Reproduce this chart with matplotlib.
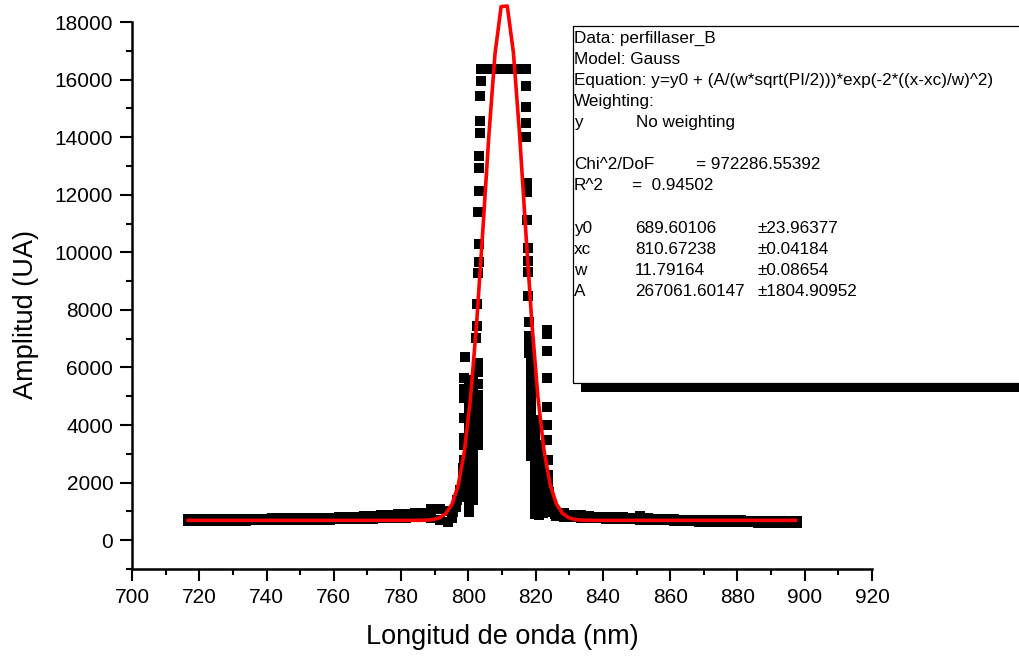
import numpy as np
import matplotlib
matplotlib.use("Agg")
import matplotlib.pyplot as plt
from matplotlib.patches import Rectangle
from matplotlib.ticker import MultipleLocator

plt.rcParams["font.family"] = ["Liberation Sans", "DejaVu Sans"]

# ---------------- measured spectrum (wavelength nm, amplitude UA) ----------------
# baseline left of the peak: upper and lower readings
left_base_x = [716.7, 719, 721.5, 724, 726.5, 729, 731.5, 734, 736.5, 739, 741.5, 744,
               746.5, 749, 751.5, 754, 756.5, 759, 761.5, 764, 766.5, 769, 771.5, 774,
               776.5, 779, 781.5, 784, 786.5, 789, 791.5, 794]
left_base_hi = [754, 748, 742, 736, 730, 735, 740, 745, 750, 754, 756, 760, 765, 770, 775,
                780, 785, 788, 790, 800, 815, 830, 845, 860, 875, 895, 915, 935, 955, 1080,
                1080, 1010]
left_base_lo = [660, 662, 664, 666, 668, 671, 675, 680, 685, 690, 693, 695, 698, 702, 706,
                710, 714, 718, 722, 728, 736, 745, 752, 760, 768, 776, 783, 789, 790, 760,
                700, 640]

# baseline right of the peak: upper and lower readings
right_base_x = [826.1, 828.5, 831, 833.5, 836, 838.5, 841, 843.5, 846, 848.5, 851, 853.5,
                856, 858.5, 861, 863.5, 866, 868.5, 871, 873.5, 876, 878.5, 881, 883.5,
                886, 888.5, 891, 893.5, 896, 897.6]
right_base_hi = [960, 930, 890, 860, 835, 815, 805, 797, 790, 783, 830, 765, 750, 735, 725,
                 715, 705, 697, 695, 695, 695, 693, 685, 678, 670, 662, 660, 660, 660, 660]
right_base_lo = [830, 815, 800, 785, 770, 758, 748, 738, 728, 720, 712, 705, 698, 690, 680,
                 668, 655, 640, 633, 630, 628, 625, 620, 617, 614, 610, 607, 605, 603, 603]

# saturated detector plateau
plateau_x = [803.9, 805.0, 806.1, 807.2, 808.3, 809.4, 810.5, 811.6, 812.7, 813.8, 814.9,
             816.0, 817.1]
plateau_level = 16383

# rising flank: isolated readings
left_flank_x = [803.7, 803.6, 803.5, 803.5, 803.3, 803.3, 803.2, 803.0, 803.1, 803.1, 803.0,
                802.7, 802.6, 802.4,
                798.9, 798.8, 798.8, 798.8, 798.7, 798.7, 798.7, 798.6, 798.5, 798.4, 798.3,
                797.5, 797.3, 796.6, 796.4, 795.4, 795.0]
left_flank_y = [15950, 15430, 14560, 14140, 13340, 12930, 12130, 11400, 10290, 9660, 9280,
                8200, 7440, 7020,
                6350, 5630, 5250, 4930, 4240, 3545, 3300, 2780, 2500, 2220, 1950,
                1740, 1490, 1390, 1150, 975, 770]

# rising flank: densely sampled wavelengths
left_cols_x = [800.2, 801.4, 802.8]
left_cols_y = [
    [5390, 5110, 4830, 4550, 4270, 4000, 3720, 3440, 3160, 2880, 2610, 2330, 2050, 1770,
     1490, 1220, 970],
    [5560, 5280, 5000, 4730, 4450, 4170, 3890, 3610, 3340, 3060, 2780, 2500, 2220, 1950,
     1670, 1390],
    [6150, 5840, 5420, 5040, 4690, 4340, 4000, 3650, 3300],
]

# falling flank: isolated readings
right_flank_x = [817.1, 817.1, 817.1, 817.2, 817.3, 817.3, 817.5, 817.7, 817.7, 817.7, 817.8,
                 817.9, 817.9, 817.9, 818.0,
                 823.4, 823.4, 823.4, 823.4, 823.4, 823.5, 823.5, 823.6, 823.7, 823.8, 824.0,
                 824.2, 824.5, 825.2, 825.8]
right_flank_y = [15780, 15050, 14490, 14000, 12410, 12090, 11120, 10150, 9700, 9300, 8480,
                 7580, 7090, 6850, 6500,
                 7300, 7160, 6570, 5630, 4620, 4000, 3480, 2780, 2260, 1910, 1670,
                 1400, 1150, 980, 900]

# falling flank: densely sampled wavelengths
right_cols_x = [818.5, 819.7, 821.0, 822.2]
right_cols_y = [
    [6250, 5980, 5700, 5420, 5140, 4870, 4590, 4310, 4030, 3750, 3480, 3200, 2920],
    [4170, 3890, 3610, 3340, 3060, 2780, 2500, 2220, 1950, 1670, 1390, 1110, 900],
    [3300, 3020, 2745, 2470, 2190, 1910, 1630, 1355, 1080, 870],
    [2610, 2330, 2050, 1770, 1490, 1220, 940],
]

# ---------------- Gaussian fit results ----------------
fit_y0, fit_y0_err = 689.60106, 23.96377
fit_xc, fit_xc_err = 810.67238, 0.04184
fit_w, fit_w_err = 11.79164, 0.08654
fit_A, fit_A_err = 267061.60147, 1804.90952
fit_chi2 = 972286.55392
fit_r2 = 0.94502
fit_range = (716.7, 897.3)
fit_points = 100

# ---------------- figure ----------------
W, H = 1020, 657
fig = plt.figure(figsize=(W / 100, H / 100), dpi=100)


def fx(px):
    return px / W


def fy(py):
    return 1 - py / H


ax = fig.add_axes([fx(132), fy(569), fx(872) - fx(132), fy(22) - fy(569)])

mk = dict(linestyle="none", marker="s", color="black", ms=7.2, mew=0, zorder=2)
ax.plot(left_base_x, left_base_lo, **mk)
ax.plot(left_base_x, left_base_hi, **mk)
ax.plot(right_base_x, right_base_lo, **mk)
ax.plot(right_base_x, right_base_hi, **mk)
ax.plot(plateau_x, [plateau_level] * len(plateau_x), **mk)
ax.plot(left_flank_x, left_flank_y, **mk)
ax.plot(right_flank_x, right_flank_y, **mk)
for cx, cy in zip(left_cols_x, left_cols_y):
    ax.plot([cx] * len(cy), cy, **mk)
for cx, cy in zip(right_cols_x, right_cols_y):
    ax.plot([cx] * len(cy), cy, **mk)

# fitted Gaussian curve
xf = np.linspace(fit_range[0], fit_range[1], fit_points)
yf = fit_y0 + (fit_A / (fit_w * np.sqrt(np.pi / 2))) * np.exp(-2 * ((xf - fit_xc) / fit_w) ** 2)
ax.plot(xf, yf, color="#ff0000", lw=2.6, zorder=3, clip_on=False)

ax.set_xlim(700, 920)
ax.set_ylim(-1000, 18000)
ax.xaxis.set_major_locator(MultipleLocator(20))
ax.xaxis.set_minor_locator(MultipleLocator(10))
ax.yaxis.set_major_locator(MultipleLocator(2000))
ax.yaxis.set_minor_locator(MultipleLocator(1000))

for side in ("top", "right"):
    ax.spines[side].set_visible(False)
for side in ("left", "bottom"):
    ax.spines[side].set_linewidth(1.8)

ax.tick_params(which="major", direction="out", length=8.5, width=1.5, labelsize=15,
               color="black")
ax.tick_params(axis="y", which="major", pad=5)
ax.tick_params(axis="x", which="major", pad=5.5)
ax.tick_params(which="minor", direction="out", length=4.5, width=1.5)

ax.set_xlabel("Longitud de onda (nm)", fontsize=19.5, va="center")
ax.xaxis.set_label_coords(0.5, -0.125)
ax.set_ylabel("Amplitud (UA)", fontsize=19.5, va="center")
ax.yaxis.set_label_coords(-0.1432, 0.466)

# ---------------- fit report box ----------------
shadow = Rectangle((fx(581), fy(391.7)), fx(1100) - fx(581), fy(34) - fy(391.7),
                   transform=fig.transFigure, facecolor="black", edgecolor="none",
                   zorder=5)
box = Rectangle((fx(573.3), fy(383.3)), fx(1100) - fx(573.3), fy(26) - fy(383.3),
                transform=fig.transFigure, facecolor="white", edgecolor="black",
                lw=0.9, zorder=6)
fig.add_artist(shadow)
fig.add_artist(box)

first_baseline = 42.7
line_step = 21.1
report = [
    (0, [(574, "Data: perfillaser_B")]),
    (1, [(574, "Model: Gauss")]),
    (2, [(574, "Equation: y=y0 + (A/(w*sqrt(PI/2)))*exp(-2*((x-xc)/w)^2)")]),
    (3, [(574, "Weighting:")]),
    (4, [(574, "y"), (636, "No weighting")]),
    (6, [(574, "Chi^2/DoF"), (696.5, f"= {fit_chi2:.5f}")]),
    (7, [(574, "R^2"), (631.5, f"=  {fit_r2:.5f}")]),
    (9, [(574, "y0"), (635, f"{fit_y0:.5f}"), (757, f"\u00b1{fit_y0_err:.5f}")]),
    (10, [(574, "xc"), (635, f"{fit_xc:.5f}"), (757, f"\u00b1{fit_xc_err:.5f}")]),
    (11, [(574, "w"), (635, f"{fit_w:.5f}"), (757, f"\u00b1{fit_w_err:.5f}")]),
    (12, [(574, "A"), (635, f"{fit_A:.5f}"), (757, f"\u00b1{fit_A_err:.5f}")]),
]
for row, cells in report:
    py = first_baseline + row * line_step
    for px, txt in cells:
        fig.text(fx(px), fy(py), txt, fontsize=12.3, ha="left", va="baseline",
                 color="black", zorder=7)

fig.savefig("out.png", dpi=100)
